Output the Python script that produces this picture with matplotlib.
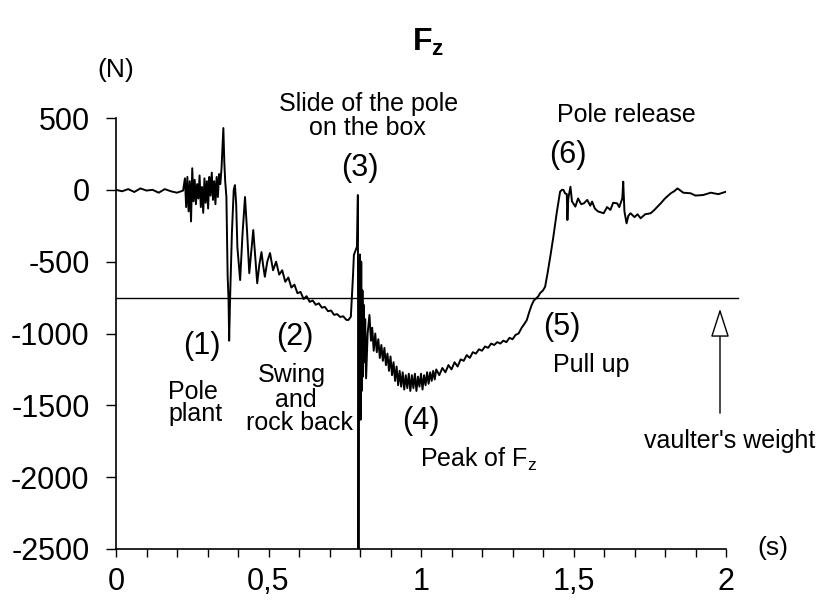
import numpy as np
import matplotlib.pyplot as plt
from matplotlib.patches import FancyArrowPatch

plt.rcParams['font.family'] = ['Liberation Sans', 'DejaVu Sans']
plt.rcParams['mathtext.fontset'] = 'custom'
plt.rcParams['mathtext.rm'] = 'Liberation Sans'
plt.rcParams['mathtext.bf'] = 'Liberation Sans:bold'

# Fz trace (time in s, force in N)
temps = [0.000, 0.020, 0.040, 0.060, 0.080, 0.100, 0.120, 0.140, 0.160, 0.180,
         0.200, 0.220, 0.226, 0.230, 0.234, 0.238, 0.242, 0.246, 0.250, 0.254,
         0.258, 0.262, 0.266, 0.270, 0.274, 0.278, 0.282, 0.286, 0.290, 0.294,
         0.298, 0.302, 0.306, 0.310, 0.314, 0.318, 0.322, 0.326, 0.330, 0.334,
         0.338, 0.342, 0.346, 0.352, 0.355, 0.358, 0.362, 0.366, 0.369, 0.371,
         0.374, 0.380, 0.386, 0.390, 0.394, 0.398, 0.407, 0.415, 0.423, 0.430,
         0.437, 0.444, 0.450, 0.457, 0.463, 0.470, 0.477, 0.482, 0.488, 0.496,
         0.505, 0.515, 0.525, 0.535, 0.545, 0.555, 0.565, 0.575, 0.585, 0.595,
         0.605, 0.615, 0.625, 0.635, 0.645, 0.655, 0.665, 0.675, 0.685, 0.695,
         0.705, 0.715, 0.725, 0.735, 0.745, 0.755, 0.762, 0.770, 0.777, 0.780,
         0.790, 0.793, 0.795, 0.797, 0.798, 0.800, 0.802, 0.804, 0.806, 0.808,
         0.810, 0.812, 0.814, 0.817, 0.820, 0.825, 0.831, 0.836, 0.840, 0.845,
         0.850, 0.855, 0.860, 0.865, 0.870, 0.875, 0.880, 0.885, 0.890, 0.895,
         0.900, 0.905, 0.910, 0.915, 0.920, 0.925, 0.930, 0.935, 0.940, 0.945,
         0.950, 0.955, 0.960, 0.965, 0.970, 0.975, 0.980, 0.985, 0.990, 0.995,
         1.000, 1.005, 1.010, 1.015, 1.020, 1.025, 1.030, 1.035, 1.040, 1.045,
         1.050, 1.060, 1.070, 1.080, 1.090, 1.100, 1.110, 1.120, 1.130, 1.140,
         1.150, 1.160, 1.170, 1.180, 1.190, 1.200, 1.210, 1.220, 1.230, 1.240,
         1.250, 1.260, 1.270, 1.280, 1.290, 1.300, 1.310, 1.320, 1.330, 1.340,
         1.347, 1.355, 1.363, 1.370, 1.379, 1.385, 1.390, 1.400, 1.407, 1.415,
         1.425, 1.434, 1.445, 1.456, 1.462, 1.467, 1.472, 1.478, 1.480, 1.483,
         1.490, 1.495, 1.506, 1.515, 1.525, 1.534, 1.545, 1.555, 1.561, 1.570,
         1.580, 1.599, 1.610, 1.621, 1.630, 1.643, 1.650, 1.660, 1.663, 1.667,
         1.674, 1.680, 1.687, 1.700, 1.710, 1.720, 1.735, 1.753, 1.765, 1.786,
         1.800, 1.819, 1.830, 1.841, 1.860, 1.884, 1.900, 1.925, 1.950, 1.975,
         2.000]
force = [0, -10, 5, -15, 10, -5, 0, -20, 5, -10,
         -20, -5, 80, -120, 90, -150, 60, -220, 150, -80,
         70, -100, 40, -60, 100, -120, 20, -160, 80, -90,
         60, -130, 90, -40, 120, -70, 60, -100, 90, -50,
         110, 40, 150, 430, 200, 60, -50, -600, -760, -1050,
         -760, -300, 0, 33, -100, -400, -628, -300, -50, -300,
         -580, -420, -280, -480, -650, -520, -433, -520, -605, -500,
         -440, -560, -500, -590, -560, -640, -610, -680, -660, -720,
         -710, -760, -740, -780, -770, -800, -790, -820, -815, -845,
         -840, -870, -865, -885, -880, -905, -906, -883, -600, -453,
         -396, -36, -2500, -500, -1500, -450, -1600, -500, -1400, -700,
         -1300, -800, -1200, -900, -1312, -1000, -871, -1050, -960, -1120,
         -1000, -1130, -1040, -1170, -1080, -1190, -1100, -1220, -1140, -1260,
         -1160, -1290, -1200, -1330, -1230, -1360, -1260, -1370, -1270, -1390,
         -1290, -1380, -1280, -1400, -1290, -1380, -1280, -1400, -1300, -1370,
         -1280, -1390, -1290, -1360, -1270, -1350, -1270, -1330, -1260, -1320,
         -1250, -1290, -1240, -1270, -1220, -1250, -1200, -1230, -1180, -1190,
         -1150, -1170, -1130, -1140, -1110, -1120, -1090, -1100, -1070, -1080,
         -1060, -1070, -1050, -1060, -1030, -1040, -1010, -1000, -960, -930,
         -906, -850, -801, -770, -753, -740, -720, -700, -674, -580,
         -450, -326, -160, -13, 0, 0, -24, -30, -210, -60,
         22, -80, -117, -60, -100, -94, -70, -110, -82, -130,
         -150, -163, -120, -140, -90, -94, -120, -60, 57, -150,
         -233, -180, -163, -190, -170, -198, -170, -163, -140, -94,
         -60, -24, -10, 10, -20, -24, -40, -36, -20, -30,
         -13]
poids = -750  # vaulter's weight (N)

yticks = [500, 0, -500, -1000, -1500, -2000, -2500]
xticks = [0, 0.5, 1, 1.5, 2]
xtick_labels = ["0", "0,5", "1", "1,5", "2"]

W, H = 819, 603
fig = plt.figure(figsize=(W / 100, H / 100), dpi=100)
ax = fig.add_axes([116 / W, 1 - 549 / H, (726 - 116) / W, (549 - 118) / H])

def px(x, y):
    return x / W, 1 - y / H

ax.plot(temps, force, color="black", lw=1.4)
ax.plot([0, 2.04], [poids, poids], color="black", lw=1.0, clip_on=False)

ax.set_xlim(0, 2)
ax.set_ylim(-2500, 500)
ax.set_xticks(xticks)
ax.set_xticklabels(xtick_labels, fontsize=22)
ax.set_xticks(np.arange(0, 2.01, 0.1), minor=True)
ax.set_yticks(yticks)
ax.set_yticklabels([str(v) for v in yticks], fontsize=22)
ax.tick_params(axis="x", which="both", direction="out", length=6, width=1, pad=7)
ax.tick_params(axis="y", direction="out", length=7, width=1, pad=12)
for s in ["top", "right"]:
    ax.spines[s].set_visible(False)
for s in ["left", "bottom"]:
    ax.spines[s].set_linewidth(1.2)

fig.text(*px(428, 42), r"$\mathbf{F_z}$", fontsize=23, ha="center", va="center")
fig.text(*px(116, 70), "(N)", fontsize=19, ha="center", va="center")
fig.text(*px(773, 548), "(s)", fontsize=19, ha="center", va="center")

small = 18
big = 22
fig.text(*px(369, 104), "Slide of the pole", fontsize=small, ha="center", va="center")
fig.text(*px(367, 128), "on the box", fontsize=small, ha="center", va="center")
fig.text(*px(360, 168), "(3)", fontsize=big, ha="center", va="center")
fig.text(*px(626, 115), "Pole release", fontsize=small, ha="center", va="center")
fig.text(*px(568, 155), "(6)", fontsize=big, ha="center", va="center")
fig.text(*px(202, 346), "(1)", fontsize=big, ha="center", va="center")
fig.text(*px(193, 392), "Pole", fontsize=small, ha="center", va="center")
fig.text(*px(196, 414), "plant", fontsize=small, ha="center", va="center")
fig.text(*px(295, 337), "(2)", fontsize=big, ha="center", va="center")
fig.text(*px(292, 375), "Swing", fontsize=small, ha="center", va="center")
fig.text(*px(296, 400), "and", fontsize=small, ha="center", va="center")
fig.text(*px(300, 423), "rock back", fontsize=small, ha="center", va="center")
fig.text(*px(421, 421), "(4)", fontsize=big, ha="center", va="center")
fig.text(*px(420, 459), r"Peak of F$_\mathregular{z}$", fontsize=small, ha="left", va="center")
fig.text(*px(562, 327), "(5)", fontsize=big, ha="center", va="center")
fig.text(*px(591, 365), "Pull up", fontsize=small, ha="center", va="center")
fig.text(*px(730, 441), "vaulter's weight", fontsize=small, ha="center", va="center")

arrow = FancyArrowPatch(px(720, 416), px(720, 306), transform=fig.transFigure,
                        arrowstyle="-|>,head_length=18,head_width=5.8",
                        mutation_scale=1, facecolor="white", edgecolor="black", lw=1.0)
fig.patches.append(arrow)

fig.savefig("out.png", dpi=100)
